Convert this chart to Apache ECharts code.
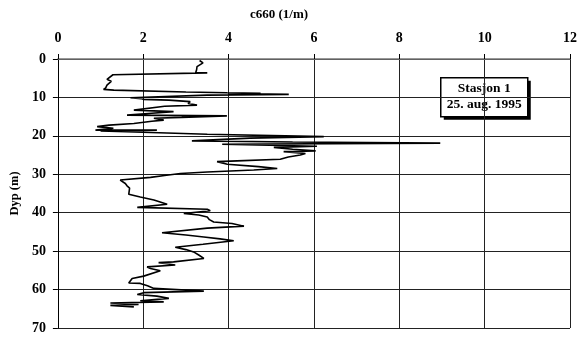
<!DOCTYPE html>
<html>
<head>
<meta charset="utf-8">
<script src="https://cdn.jsdelivr.net/npm/echarts@6/dist/echarts.min.js"></script>
<style>html,body{margin:0;padding:0;background:#fff;}#c{width:585px;height:339px;}</style>
</head>
<body>
<div id="c"></div>
<script>
const xTicks = [0, 2, 4, 6, 8, 10, 12];
const yTicks = [0, 10, 20, 30, 40, 50, 60, 70];
const depth = [0.4,1.0,1.3,2.0,2.8,3.5,3.6,4.1,4.5,5.3,5.8,6.2,6.8,7.5,7.9,8.1,8.6,8.8,8.9,9.0,9.2,9.4,10.1,10.3,10.5,10.7,11.1,11.6,12.0,12.3,13.3,13.7,14.1,14.6,14.8,15.2,15.4,15.9,16.2,16.8,17.2,17.6,18.0,18.5,18.5,18.7,19.0,19.6,20.2,20.6,21.3,21.6,21.9,22.2,22.7,23.0,23.5,23.9,24.1,24.6,25.0,25.5,26.1,26.5,26.7,27.0,27.4,28.0,28.5,28.9,29.4,29.8,30.3,30.8,31.5,32.4,33.0,33.6,34.1,35.2,35.9,36.5,36.7,37.2,37.8,38.6,39.1,39.5,40.2,40.6,41.1,41.8,42.4,42.8,43.5,44.0,45.2,45.8,46.3,46.8,47.3,48.2,49.0,49.6,50.2,51.0,51.9,52.3,52.8,53.0,53.6,54.1,54.5,55.1,55.4,56.5,57.1,58.3,58.4,59.0,59.7,60.4,60.8,61.3,61.7,62.3,62.9,63.2,63.5,63.9,64.1,64.5];
const c660 = [3.32,3.40,3.43,3.26,3.25,3.23,3.50,1.29,1.25,1.15,1.25,1.21,1.15,1.12,1.07,1.31,3.0,3.96,4.75,4.0,5.41,3.5,1.70,1.95,2.0,2.6,3.1,3.05,3.26,2.5,1.78,2.71,2.2,1.62,3.96,2.9,2.25,2.48,2.2,1.78,1.2,0.92,1.3,0.88,2.32,1.0,1.8,3.5,6.23,4.5,3.14,5.5,8.96,3.85,6.07,5.06,5.5,6.04,5.29,5.8,5.68,5.4,5.21,4.2,3.73,3.75,3.97,4.7,5.14,4.59,3.5,2.87,2.5,2.17,1.46,1.58,1.62,1.68,1.70,1.66,1.93,2.17,2.25,2.28,2.56,1.86,3.5,3.57,2.95,3.3,3.5,3.55,3.65,4.08,4.36,3.5,2.44,3.0,3.42,3.8,4.12,3.4,2.75,3.0,3.18,3.3,3.42,3.42,2.71,2.36,2.75,2.09,2.17,2.4,2.4,2.01,1.74,1.66,1.93,2.1,2.25,3.42,2.01,1.86,2.32,2.6,1.93,2.48,1.23,1.89,1.23,1.78];
const titleText = 'c660 (1/m)';
const yName = 'Dyp (m)';
const boxLines = ['Stasjon 1', '25. aug. 1995'];

const font = '"Liberation Serif", "Times New Roman", serif';
const chart = echarts.init(document.getElementById('c'), null, {renderer: 'canvas'});
chart.setOption({
  animation: false,
  grid: {left: 57.5, top: 59, width: 512.5, height: 269, containLabel: false},
  xAxis: {
    type: 'value', position: 'top', min: xTicks[0], max: xTicks[xTicks.length - 1], interval: 2,
    axisLine: {show: true, lineStyle: {color: '#777', width: 1.5}},
    axisTick: {show: true, length: 5, lineStyle: {color: '#000'}},
    axisLabel: {margin: 14, color: '#000', fontFamily: font, fontWeight: 'bold', fontSize: 14},
    splitLine: {show: true, lineStyle: {color: '#222', width: 1}}
  },
  yAxis: {
    type: 'value', inverse: true, min: yTicks[0], max: yTicks[yTicks.length - 1], interval: 10,
    name: yName, nameLocation: 'middle', nameGap: 35, nameRotate: 90,
    nameTextStyle: {color: '#000', fontFamily: font, fontWeight: 'bold', fontSize: 12.5},
    axisLine: {show: true, lineStyle: {color: '#000', width: 1}},
    axisTick: {show: true, length: 5, lineStyle: {color: '#000'}},
    axisLabel: {margin: 12, color: '#000', fontFamily: font, fontWeight: 'bold', fontSize: 14},
    splitLine: {show: true, lineStyle: {color: '#222', width: 1}}
  },
  series: [{
    type: 'line', data: depth.map((d, i) => [c660[i], d]),
    showSymbol: false, symbol: 'none',
    lineStyle: {color: '#000', width: 1.6}
  }],
  graphic: [
    {type: 'text', left: 250, top: 8,
     style: {text: titleText, fill: '#000', font: 'bold 13px ' + font}},
    {type: 'group', left: 440, top: 77, children: [
      {type: 'rect', shape: {x: 3, y: 3, width: 87, height: 39}, style: {fill: '#000'}},
      {type: 'rect', shape: {x: 0, y: 0, width: 87, height: 39},
       style: {fill: '#fff', stroke: '#000', lineWidth: 1.5}},
      {type: 'text', x: 43.5, y: 11, style: {text: boxLines[0], fill: '#000', font: 'bold 13.5px ' + font, align: 'center', verticalAlign: 'middle'}},
      {type: 'text', x: 43.5, y: 27, style: {text: boxLines[1], fill: '#000', font: 'bold 13.5px ' + font, align: 'center', verticalAlign: 'middle'}}
    ]}
  ]
});
</script>
</body>
</html>
